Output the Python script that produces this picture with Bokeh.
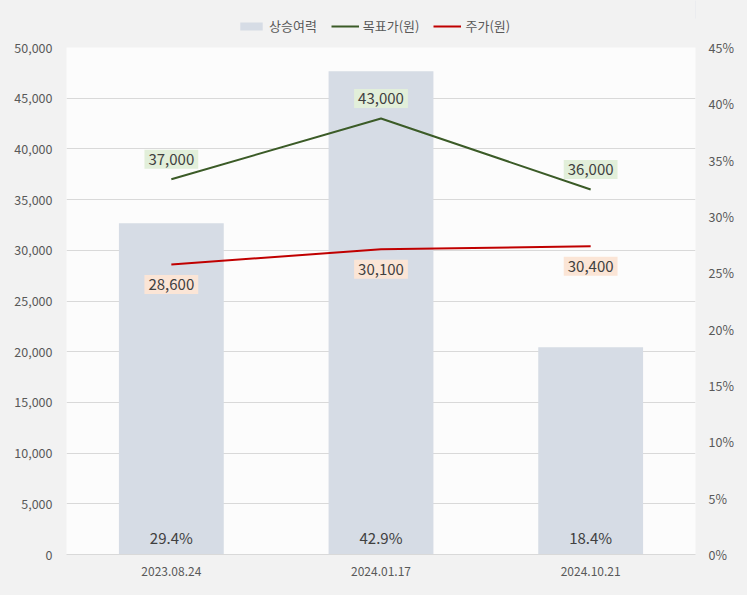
from bokeh.plotting import figure
from bokeh.layouts import column
from bokeh.models import ColumnDataSource, Range1d, LinearAxis, NumeralTickFormatter, PrintfTickFormatter, FixedTicker, Legend, LegendItem, FactorRange
from bokeh.core.properties import value
from bokeh.embed import file_html
from bokeh.resources import INLINE

dates = ["2023.08.24", "2024.01.17", "2024.10.21"]
upside = [29.4, 42.9, 18.4]
target = [37000, 43000, 36000]
price = [28600, 30100, 30400]
series_names = ["상승여력", "목표가(원)", "주가(원)"]

upside_lbl = [f"{v:.1f}%" for v in upside]
target_lbl = [f"{v:,}" for v in target]
price_lbl = [f"{v:,}" for v in price]

FONT = "Noto Sans CJK KR"
BAR_C = "#d6dce5"
GREEN = "#3b5b27"
RED = "#c00000"
BG = "#f2f2f2"

src = ColumnDataSource(dict(d=dates, up=upside, t=target, pr=price,
                            upl=upside_lbl, tl=target_lbl, pl=price_lbl,
                            zero=[0] * len(dates)))

p = figure(frame_width=629, frame_height=507, x_range=FactorRange(*dates, range_padding=0),
           y_range=Range1d(0, 50000), output_backend="svg", toolbar_location=None,
           min_border_left=66, min_border_right=52, min_border_top=11, min_border_bottom=41)
p.extra_y_ranges = {"pct": Range1d(0, 45)}
p.border_fill_color = BG
p.background_fill_color = "#fcfcfc"
p.outline_line_color = None

p.vbar(x="d", top="up", width=0.5, source=src, y_range_name="pct",
       fill_color=BAR_C, line_color=None)
p.line(x="d", y="t", source=src, line_color=GREEN, line_width=2)
p.line(x="d", y="pr", source=src, line_color=RED, line_width=2)

p.text(x="d", y="zero", text="upl", source=src, text_align="center", text_baseline="middle",
       y_offset=-17, text_font=value(FONT), text_font_size="15px", text_color="#404040")
p.text(x="d", y="t", text="tl", source=src, text_align="center", text_baseline="middle",
       y_offset=-20, text_font=value(FONT), text_font_size="15px", text_color="#404040",
       background_fill_color="#e2efda", padding=4)
p.text(x="d", y="pr", text="pl", source=src, text_align="center", text_baseline="middle",
       y_offset=20, text_font=value(FONT), text_font_size="15px", text_color="#404040",
       background_fill_color="#fbe5d6", padding=4)

# axes
p.yaxis.ticker = FixedTicker(ticks=list(range(0, 50001, 5000)))
p.yaxis.formatter = NumeralTickFormatter(format="0,0")
ax_r = LinearAxis(y_range_name="pct", ticker=FixedTicker(ticks=list(range(0, 46, 5))))
ax_r.formatter = PrintfTickFormatter(format="%d%%")
p.add_layout(ax_r, "right")

for ax in [p.yaxis[0], ax_r]:
    ax.axis_line_color = None
    ax.major_tick_line_color = None
    ax.minor_tick_line_color = None
    ax.major_label_text_font = FONT
    ax.major_label_text_font_size = "12.5px"
    ax.major_label_text_color = "#595959"
p.yaxis[0].major_label_standoff = 8
ax_r.major_label_standoff = 7

p.xaxis.axis_line_color = "#d9d9d9"
p.xaxis.major_tick_line_color = None
p.xaxis.minor_tick_line_color = None
p.xaxis.major_label_text_font = FONT
p.xaxis.major_label_text_font_size = "12px"
p.xaxis.major_label_text_color = "#595959"
p.xaxis.major_label_standoff = 6

p.xgrid.grid_line_color = None
p.ygrid.grid_line_color = "#d9d9d9"

# legend strip (dummy renderers sit outside the visible range; only their legend swatches show)
lg = figure(width=747, height=36, x_range=Range1d(0, 1), y_range=Range1d(0, 1),
            output_backend="svg", toolbar_location=None,
            min_border_left=0, min_border_right=0, min_border_top=0, min_border_bottom=0)
lg.axis.visible = False
lg.grid.visible = False
lg.outline_line_color = None
lg.background_fill_color = None
lg.border_fill_color = BG
r1 = lg.vbar(x=[5], top=[1], bottom=[0.5], width=0.5, fill_color=BAR_C, line_color=None)
r2 = lg.line(x=[5, 6], y=[5, 5], line_color=GREEN, line_width=2)
r3 = lg.line(x=[5, 6], y=[5, 5], line_color=RED, line_width=2)
legend = Legend(items=[LegendItem(label=series_names[0], renderers=[r1]),
                       LegendItem(label=series_names[1], renderers=[r2]),
                       LegendItem(label=series_names[2], renderers=[r3])],
                orientation="horizontal", location=(171, 1),
                label_text_font=FONT, label_text_font_size="13px", label_text_color="#595959",
                glyph_width=28, glyph_height=10, spacing=14, label_standoff=4,
                background_fill_alpha=0, border_line_color=None, padding=2, margin=0)
lg.add_layout(legend, "center")

open("out.html", "w").write(file_html(column(lg, p, spacing=0, background=BG), INLINE))
